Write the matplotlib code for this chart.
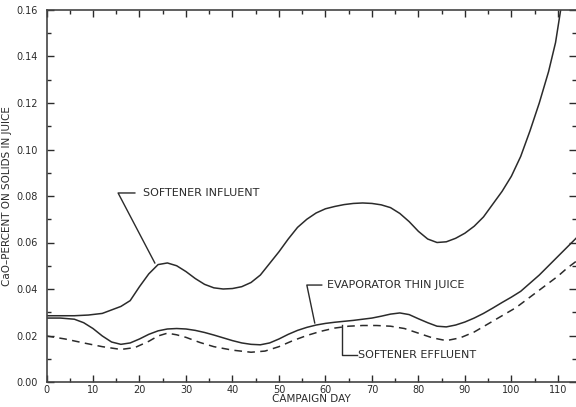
import matplotlib
matplotlib.use('Agg')
import matplotlib.pyplot as plt
from matplotlib.ticker import MultipleLocator, FormatStrFormatter

# values (campaign day, CaO percent on solids)
influent_day = [0, 3, 6, 9, 12, 14, 16, 18, 20, 22, 24, 26, 28, 30, 32, 34, 36, 38,
                40, 42, 44, 46, 48, 50, 52, 54, 56, 58, 60, 62, 64, 66, 68, 70, 72,
                74, 76, 78, 80, 82, 84, 86, 88, 90, 92, 94, 96, 98, 100, 102, 104,
                106, 108, 109.5, 110.6]
influent = [0.0285, 0.0285, 0.0285, 0.0288, 0.0295, 0.031, 0.0325, 0.035, 0.041,
            0.0465, 0.0505, 0.0512, 0.050, 0.0475, 0.0445, 0.042, 0.0405, 0.040,
            0.0402, 0.041, 0.0428, 0.046, 0.051, 0.056, 0.0615, 0.0665, 0.070,
            0.0727, 0.0745, 0.0755, 0.0763, 0.0768, 0.077, 0.0768, 0.0762, 0.075,
            0.0725, 0.069, 0.0648, 0.0615, 0.060, 0.0603, 0.0618, 0.064, 0.067,
            0.071, 0.0765, 0.082, 0.0885, 0.097, 0.108, 0.120, 0.1335, 0.146, 0.16]

thin_day = [0, 3, 6, 8, 10, 12, 14, 16, 18, 20, 22, 24, 26, 28, 30, 32, 34, 36, 38,
            40, 42, 44, 46, 48, 50, 52, 54, 56, 58, 60, 62, 64, 66, 68, 70, 72, 74,
            76, 78, 80, 82, 84, 86, 88, 90, 92, 94, 96, 98, 100, 102, 104, 106,
            108, 110, 112, 114]
thin_juice = [0.0275, 0.0275, 0.027, 0.0255, 0.023, 0.0198, 0.0172, 0.0162, 0.0168,
              0.0185, 0.0205, 0.022, 0.0228, 0.023, 0.0228, 0.0222, 0.0213, 0.0202,
              0.019, 0.0178, 0.0168, 0.0162, 0.016, 0.0168, 0.0185, 0.0205, 0.0222,
              0.0235, 0.0245, 0.0252, 0.0257, 0.0261, 0.0265, 0.027, 0.0275, 0.0283,
              0.0292, 0.0297, 0.029, 0.0272, 0.0255, 0.024, 0.0237, 0.0245, 0.0258,
              0.0275, 0.0295, 0.0318, 0.0342, 0.0365, 0.039, 0.0425, 0.046, 0.050,
              0.054, 0.058, 0.062]

effluent_day = [0, 4, 8, 12, 16, 19, 22, 24, 26, 28, 30, 33, 36, 40, 44, 47, 50, 53,
                56, 59, 62, 65, 68, 71, 74, 77, 80, 83, 86, 89, 92, 95, 98, 101, 104,
                107, 110, 112, 114]
effluent = [0.0198, 0.0185, 0.0168, 0.0152, 0.014, 0.0148, 0.0175, 0.0198, 0.021,
            0.0203, 0.0192, 0.017, 0.0152, 0.0137, 0.0128, 0.0133, 0.0152, 0.0178,
            0.020, 0.0218, 0.0232, 0.024, 0.0243, 0.0243, 0.024, 0.023, 0.021, 0.019,
            0.0178, 0.019, 0.0215, 0.025, 0.0285, 0.032, 0.0365, 0.041, 0.0455,
            0.049, 0.052]

ink = '#2b2b2b'

fig = plt.figure(figsize=(5.76, 4.07), dpi=100)
ax = fig.add_axes([46.5 / 576, 25 / 407, (576 - 46.5) / 576, 372 / 407])

ax.plot(influent_day, influent, color=ink, lw=1.1)
ax.plot(thin_day, thin_juice, color=ink, lw=1.1)
ax.plot(effluent_day, effluent, color=ink, lw=1.1, linestyle=(0, (5, 3.5)))

ax.set_xlim(0, 113.9)
ax.set_ylim(0, 0.16)
ax.xaxis.set_major_locator(MultipleLocator(10))
ax.xaxis.set_minor_locator(MultipleLocator(5))
ax.yaxis.set_major_locator(MultipleLocator(0.02))
ax.yaxis.set_minor_locator(MultipleLocator(0.01))
ax.yaxis.set_major_formatter(FormatStrFormatter('%.2f'))

ax.tick_params(which='both', direction='in', top=True, right=True, colors=ink,
               labelsize=7, width=1)
ax.tick_params(which='major', length=5)
ax.tick_params(which='minor', length=3)
ax.tick_params(axis='y', pad=6)
ax.tick_params(axis='x', pad=2)
ax.spines['right'].set_visible(False)
for s in ['left', 'top', 'bottom']:
    ax.spines[s].set_color('#444444')
    ax.spines[s].set_linewidth(1.2)

ax.set_xlabel('CAMPAIGN DAY', fontsize=7.5, color=ink)
ax.set_ylabel('CaO\u2013PERCENT ON SOLIDS IN JUICE', fontsize=7.5, color=ink, labelpad=3)
ax.xaxis.set_label_coords(0.50, -0.033)

# leader lines and labels
ax.plot([19.0, 15.4, 23.3], [0.0813, 0.0813, 0.0512], color=ink, lw=1)
ax.text(20.8, 0.0813, 'SOFTENER INFLUENT', fontsize=8, color=ink, va='center')

ax.plot([59.2, 56.0, 57.7], [0.0417, 0.0417, 0.0254], color=ink, lw=1)
ax.text(60.3, 0.0417, 'EVAPORATOR THIN JUICE', fontsize=8, color=ink, va='center')

ax.plot([63.5, 63.5, 66.8], [0.0245, 0.0116, 0.0116], color=ink, lw=1)
ax.text(67.0, 0.0116, 'SOFTENER EFFLUENT', fontsize=8, color=ink, va='center')

fig.savefig('out.png', dpi=100)
